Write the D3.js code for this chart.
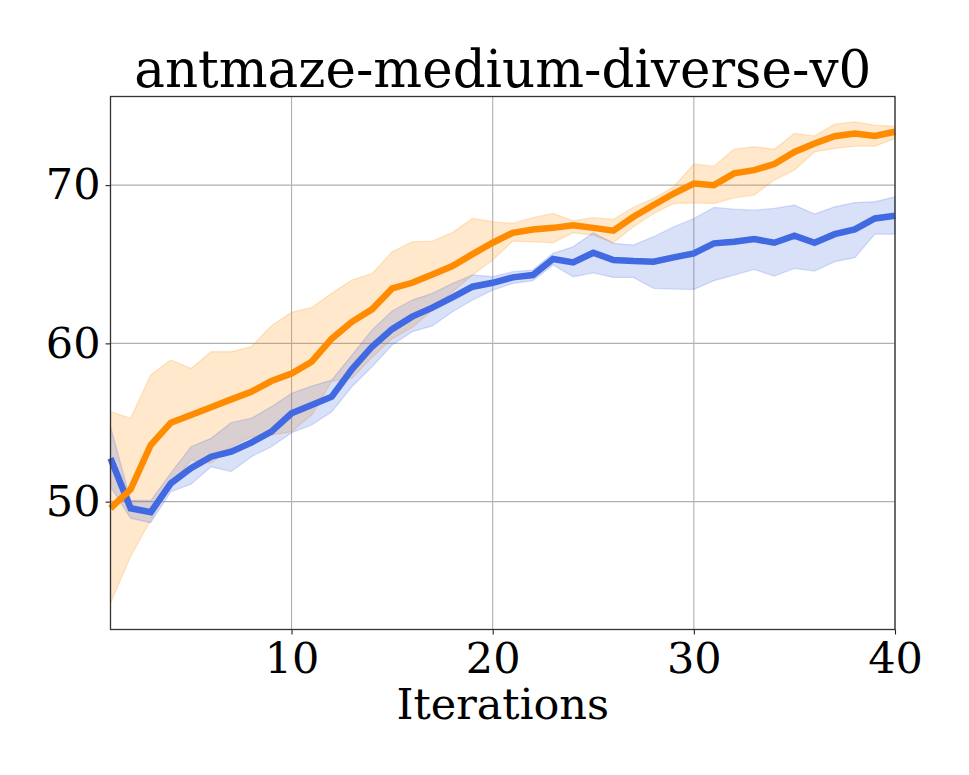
<!DOCTYPE html>
<html>
<head>
<meta charset="utf-8">
<script src="https://cdn.jsdelivr.net/npm/d3@7"></script>
<style>
	html, body { margin: 0; padding: 0; background: #fff; }
	svg text { font-family: "DejaVu Serif", serif; fill: #000; }
</style>
</head>
<body>
<div id="chart"></div>
<script>
var iterations = d3.range(1, 41);

var orangeMean = [49.58, 50.78, 53.58, 54.99, 55.47, 55.96, 56.46, 56.94, 57.62, 58.1,
	58.84, 60.3, 61.36, 62.15, 63.47, 63.83, 64.36, 64.89, 65.64, 66.36,
	66.99, 67.2, 67.3, 67.47, 67.3, 67.12, 68.0, 68.74, 69.47, 70.1,
	70.0, 70.74, 70.95, 71.33, 72.1, 72.63, 73.09, 73.26, 73.11, 73.37];
var orangeHi = [55.68, 55.27, 58.0, 58.95, 58.42, 59.47, 59.47, 59.79, 61.11, 61.96,
	62.27, 63.16, 64.0, 64.4, 65.79, 66.42, 66.46, 67.0, 67.9, 67.69,
	67.58, 67.94, 68.21, 67.75, 67.94, 67.83, 68.6, 69.16, 69.9, 71.33,
	71.2, 72.27, 72.42, 72.27, 73.26, 73.11, 73.85, 74.0, 73.79, 73.72];
var orangeLo = [43.59, 46.53, 48.84, 51.0, 52.63, 52.42, 53.47, 54.1, 54.21, 54.42,
	55.47, 57.6, 57.8, 59.1, 60.3, 61.0, 62.1, 63.27, 64.32, 65.27,
	66.46, 66.42, 66.36, 66.99, 66.84, 66.36, 67.37, 68.21, 68.84, 68.88,
	68.84, 69.2, 69.37, 70.32, 70.95, 72.1, 72.32, 72.46, 72.46, 72.95];

var blueMean = [52.74, 49.58, 49.33, 51.16, 52.11, 52.84, 53.16, 53.73, 54.42, 55.58,
	56.1, 56.63, 58.36, 59.79, 60.9, 61.69, 62.26, 62.91, 63.58, 63.83,
	64.17, 64.32, 65.33, 65.12, 65.73, 65.27, 65.2, 65.16, 65.43, 65.69,
	66.32, 66.42, 66.59, 66.36, 66.8, 66.36, 66.9, 67.2, 67.89, 68.06];
var blueHi = [54.74, 50.1, 50.06, 51.8, 53.47, 54.0, 54.99, 55.27, 56.0, 56.84,
	57.3, 57.68, 59.26, 60.84, 62.05, 62.74, 63.16, 63.79, 64.32, 64.21,
	64.53, 64.63, 65.69, 66.1, 66.99, 66.32, 66.21, 66.74, 67.37, 67.89,
	68.59, 68.48, 68.42, 68.53, 68.74, 68.17, 68.63, 68.9, 68.95, 69.26];
var blueLo = [50.95, 48.95, 48.67, 50.63, 51.1, 52.2, 51.9, 52.84, 53.47, 54.36,
	54.84, 55.68, 57.26, 58.52, 59.9, 60.74, 61.1, 62.0, 62.74, 63.37,
	63.79, 63.96, 64.95, 64.21, 64.46, 64.17, 64.17, 63.48, 63.43, 63.41,
	63.96, 64.32, 64.68, 64.25, 64.74, 64.57, 65.16, 65.41, 66.9, 66.9];

var xTicks = [10, 20, 30, 40];
var yTicks = [50, 60, 70];
var title = 'antmaze-medium-diverse-v0';
var xLabel = 'Iterations';

var width = 969, height = 775
	, m = {left: 110.5, right: 895, top: 96.5, bottom: 629.5};

var svg = d3.select('#chart')
	.append('svg')
	.attr('width', width)
	.attr('height', height);

var x = d3.scaleLinear().domain([1, 40]).range([m.left, m.right]);
var y = d3.scaleLinear().domain([41.92, 75.6]).range([m.bottom, m.top]);

// grid
svg.append('g')
	.selectAll('line')
	.data(xTicks)
	.enter().append('line')
		.attr('x1', function(d){ return x(d); })
		.attr('x2', function(d){ return x(d); })
		.attr('y1', m.top)
		.attr('y2', m.bottom)
		.attr('stroke', '#b0b0b0')
		.attr('stroke-width', 1.1);
svg.append('g')
	.selectAll('line')
	.data(yTicks)
	.enter().append('line')
		.attr('x1', m.left)
		.attr('x2', m.right)
		.attr('y1', function(d){ return y(d); })
		.attr('y2', function(d){ return y(d); })
		.attr('stroke', '#b0b0b0')
		.attr('stroke-width', 1.1);

var plot = svg.append('g');

function band(lo, hi, color){
	var area = d3.area()
		.x(function(d, i){ return x(iterations[i]); })
		.y0(function(d, i){ return y(lo[i]); })
		.y1(function(d, i){ return y(hi[i]); });
	plot.append('path')
		.datum(lo)
		.attr('d', area)
		.attr('fill', color)
		.attr('fill-opacity', 0.2)
		.attr('stroke', color)
		.attr('stroke-opacity', 0.2)
		.attr('stroke-width', 1.3);
}

function line(values, color){
	var ln = d3.line()
		.x(function(d, i){ return x(iterations[i]); })
		.y(function(d){ return y(d); });
	plot.append('path')
		.datum(values)
		.attr('d', ln)
		.attr('fill', 'none')
		.attr('stroke', color)
		.attr('stroke-width', 6.5)
		.attr('stroke-linejoin', 'miter');
}

band(orangeLo, orangeHi, '#ff8c00');
band(blueLo, blueHi, '#4169e1');
line(blueMean, '#4169e1');
line(orangeMean, '#ff8c00');

// axes
var xAxis = svg.append('g')
	.attr('transform', 'translate(0,' + m.bottom + ')')
	.call(d3.axisBottom(x).tickValues(xTicks).tickSize(5).tickPadding(8).tickFormat(d3.format('d')));
var yAxis = svg.append('g')
	.attr('transform', 'translate(' + m.left + ',0)')
	.call(d3.axisLeft(y).tickValues(yTicks).tickSize(5).tickPadding(5).tickFormat(d3.format('d')));

[xAxis, yAxis].forEach(function(a){
	a.select('.domain').remove();
	a.selectAll('line').attr('stroke', '#222').attr('stroke-width', 1.1);
	a.selectAll('text')
		.attr('font-family', '"DejaVu Serif", serif')
		.attr('font-size', 43)
		.attr('fill', '#000');
});

svg.append('rect')
	.attr('x', m.left)
	.attr('y', m.top)
	.attr('width', m.right - m.left)
	.attr('height', m.bottom - m.top)
	.attr('fill', 'none')
	.attr('stroke', '#333')
	.attr('stroke-width', 1.3);

svg.append('text')
	.text(title)
	.attr('x', (m.left + m.right) / 2)
	.attr('y', 86.5)
	.attr('text-anchor', 'middle')
	.attr('font-size', 51.5);

svg.append('text')
	.text(xLabel)
	.attr('x', (m.left + m.right) / 2)
	.attr('y', 718.5)
	.attr('text-anchor', 'middle')
	.attr('font-size', 43);
</script>
</body>
</html>
